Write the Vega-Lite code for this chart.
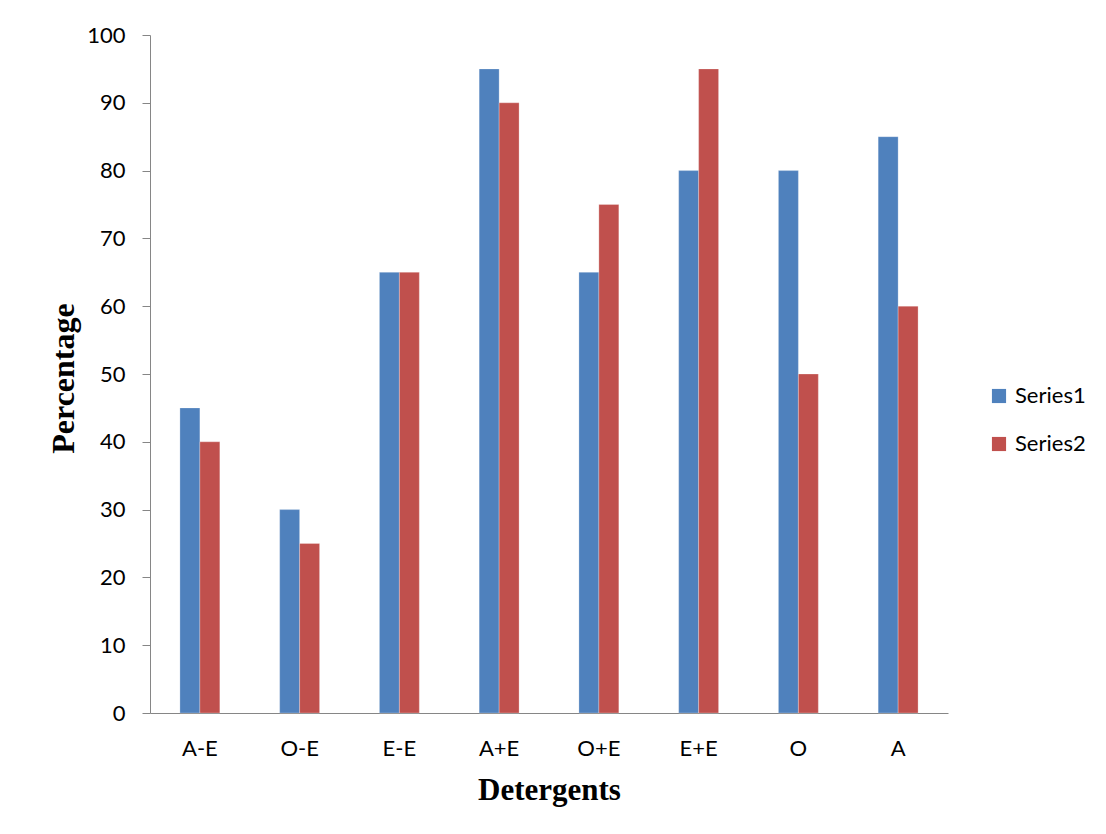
{
  "$schema": "https://vega.github.io/schema/vega-lite/v6.json",
  "autosize": "none",
  "width": 798,
  "height": 678,
  "padding": {"left": 150, "top": 35, "right": 158, "bottom": 121},
  "background": "white",
  "config": {
    "view": {"stroke": null},
    "font": "Lato",
    "axis": {"domainColor": "#868686", "tickColor": "#868686", "grid": false, "labelColor": "#000000", "labelFont": "Lato", "labelFontSize": 22}
  },
  "data": {
    "values": [
      {"detergent": "A-E", "series": "Series1", "percentage": 45},
      {"detergent": "A-E", "series": "Series2", "percentage": 40},
      {"detergent": "O-E", "series": "Series1", "percentage": 30},
      {"detergent": "O-E", "series": "Series2", "percentage": 25},
      {"detergent": "E-E", "series": "Series1", "percentage": 65},
      {"detergent": "E-E", "series": "Series2", "percentage": 65},
      {"detergent": "A+E", "series": "Series1", "percentage": 95},
      {"detergent": "A+E", "series": "Series2", "percentage": 90},
      {"detergent": "O+E", "series": "Series1", "percentage": 65},
      {"detergent": "O+E", "series": "Series2", "percentage": 75},
      {"detergent": "E+E", "series": "Series1", "percentage": 80},
      {"detergent": "E+E", "series": "Series2", "percentage": 95},
      {"detergent": "O", "series": "Series1", "percentage": 80},
      {"detergent": "O", "series": "Series2", "percentage": 50},
      {"detergent": "A", "series": "Series1", "percentage": 85},
      {"detergent": "A", "series": "Series2", "percentage": 60}
    ]
  },
  "mark": {"type": "bar", "stroke": "#ffffff", "strokeOpacity": 0.5, "strokeWidth": 0.5},
  "encoding": {
    "x": {
      "field": "detergent",
      "type": "nominal",
      "sort": null,
      "scale": {"paddingInner": 0.6, "paddingOuter": 0.3},
      "axis": {
        "title": "Detergents",
        "titleFont": "Liberation Serif",
        "titleFontSize": 31,
        "titleFontWeight": "bold",
        "titleColor": "#000000",
        "titleBaseline": "middle",
        "titleY": 77,
        "labelAngle": 0,
        "ticks": false,
        "labelPadding": 25
      }
    },
    "xOffset": {"field": "series", "type": "nominal"},
    "y": {
      "field": "percentage",
      "type": "quantitative",
      "scale": {"domain": [0, 100], "nice": false},
      "axis": {
        "title": "Percentage",
        "titleFont": "Liberation Serif",
        "titleFontSize": 32,
        "titleFontWeight": "bold",
        "titleColor": "#000000",
        "titleAngle": -90,
        "titleAlign": "center",
        "titleBaseline": "middle",
        "titleX": -87,
        "titleY": 343,
        "values": [0, 10, 20, 30, 40, 50, 60, 70, 80, 90, 100],
        "tickSize": 8,
        "labelPadding": 17
      }
    },
    "color": {
      "field": "series",
      "type": "nominal",
      "scale": {"domain": ["Series1", "Series2"], "range": ["#4F81BD", "#C0504D"]},
      "legend": {
        "title": null,
        "orient": "none",
        "legendX": 838,
        "legendY": 350,
        "symbolType": "square",
        "symbolSize": 200,
        "symbolStrokeWidth": 0,
        "labelFont": "Lato",
        "labelFontSize": 22,
        "labelColor": "#000000",
        "rowPadding": 26,
        "labelOffset": 5
      }
    }
  }
}
